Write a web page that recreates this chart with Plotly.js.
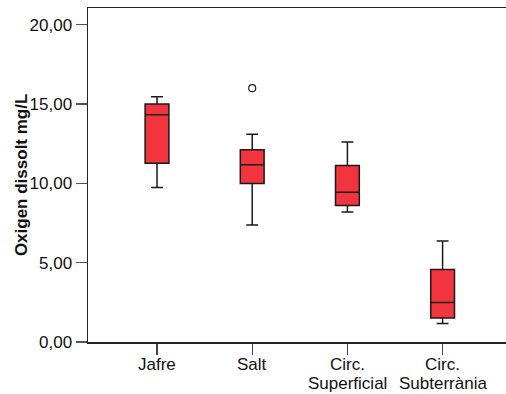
<!DOCTYPE html>
<html>
<head>
<meta charset="utf-8">
<script src="https://cdn.plot.ly/plotly-3.0.1.min.js"></script>
<style>html,body{margin:0;padding:0;background:#fff;}#chart{width:506px;height:394px;}</style>
</head>
<body>
<div id="chart"></div>
<script>
var categories = ['Jafre', 'Salt', 'Circ. Superficial', 'Circ. Subterrània'];
var labelLine1 = ['Jafre', 'Salt', 'Circ.', 'Circ.'];
var labelLine2 = ['', '', 'Superficial', 'Subterrània'];
var lowerFence = [9.74, 7.38, 8.20, 1.16];
var q1 = [11.26, 9.99, 8.60, 1.51];
var median = [14.32, 11.17, 9.44, 2.49];
var q3 = [15.00, 12.11, 11.13, 4.57];
var upperFence = [15.46, 13.09, 12.60, 6.37];
var outlierCat = ['Salt'];
var outlierVal = [16.0];
var yTicks = [0, 5, 10, 15, 20];
var yTickText = ['0,00', '5,00', '10,00', '15,00', '20,00'];

var font = 'Liberation Sans, Arial, sans-serif';

var traces = [{
  type: 'box',
  x: categories,
  q1: q1,
  median: median,
  q3: q3,
  lowerfence: lowerFence,
  upperfence: upperFence,
  width: 0.25,
  whiskerwidth: 0.5,
  fillcolor: '#f1343d',
  line: {color: '#1a1a1a', width: 1.5},
  boxpoints: false,
  hoverinfo: 'none',
  showlegend: false
}, {
  type: 'scatter',
  mode: 'markers',
  x: outlierCat,
  y: outlierVal,
  marker: {symbol: 'circle-open', size: 7, color: '#222', line: {width: 1.2, color: '#222'}},
  hoverinfo: 'none',
  showlegend: false
}];

var annotations = [];
labelLine1.forEach(function (t, i) {
  annotations.push({
    text: t, x: categories[i], xref: 'x', y: -0.0665, yref: 'paper',
    showarrow: false, xanchor: 'center', yanchor: 'middle',
    font: {family: font, size: 17, color: '#111'}
  });
});
labelLine2.forEach(function (t, i) {
  if (!t) return;
  annotations.push({
    text: t, x: categories[i], xref: 'x', y: -0.1255, yref: 'paper',
    showarrow: false, xanchor: 'center', yanchor: 'middle',
    font: {family: font, size: 17, color: '#111'}
  });
});
annotations.push({
  text: '<b>Oxigen dissolt mg/L</b>', textangle: -90,
  x: -0.16, xref: 'paper', y: 0.5, yref: 'paper',
  showarrow: false, xanchor: 'center', yanchor: 'middle',
  font: {family: font, size: 17, color: '#111'}
});

var layout = {
  width: 506, height: 394,
  margin: {l: 88, r: 0, t: 8, b: 52, pad: 0},
  paper_bgcolor: '#fff', plot_bgcolor: '#fff',
  font: {family: font, size: 17, color: '#111'},
  xaxis: {
    type: 'category',
    categoryorder: 'array', categoryarray: categories,
    range: [-0.725, 3.666],
    tickmode: 'array', tickvals: categories, ticktext: ['', '', '', ''],
    ticks: 'outside', ticklen: 11, tickwidth: 1.2, tickcolor: '#444',
    showline: true, linecolor: '#222', linewidth: 1.5, mirror: true,
    showgrid: false, zeroline: false,
    tickfont: {family: font, size: 17, color: '#111'}
  },
  yaxis: {
    range: [0, 21.05],
    tickmode: 'array', tickvals: yTicks, ticktext: yTickText,
    ticks: 'outside', ticklen: 11, tickwidth: 1.2, tickcolor: '#555',
    showline: true, linecolor: '#222', linewidth: 1.5,
    showgrid: false, zeroline: false,
    tickfont: {family: font, size: 17, color: '#111'}
  },
  annotations: annotations
};

Plotly.newPlot('chart', traces, layout, {staticPlot: true, displayModeBar: false});
</script>
</body>
</html>
